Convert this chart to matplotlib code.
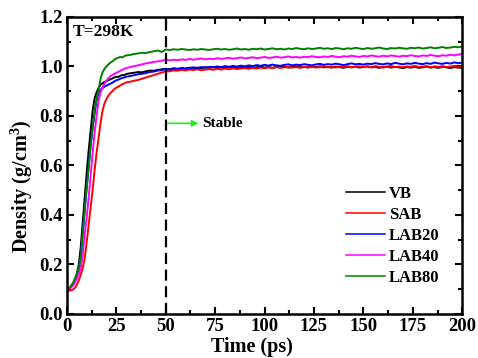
import numpy as np
import matplotlib
matplotlib.use("Agg")
from matplotlib import pyplot as plt
from matplotlib.ticker import MultipleLocator, FormatStrFormatter

plt.rcParams['font.family'] = 'Liberation Serif'
plt.rcParams['font.weight'] = 'bold'
plt.rcParams['mathtext.fontset'] = 'custom'
plt.rcParams['mathtext.bf'] = 'Liberation Serif:bold'
plt.rcParams['mathtext.rm'] = 'Liberation Serif:bold'
plt.rcParams['mathtext.default'] = 'bf'

# time grid: 1 ps steps during the rise, 2 ps steps afterwards
t_rise = list(range(0, 31))
t_late = list(range(32, 201, 2))
time = np.array(t_rise + t_late)

labels = ['VB', 'SAB', 'LAB20', 'LAB40', 'LAB80']
colors = ['black', 'red', 'blue', 'magenta', 'green']

vb = [0.100, 0.103, 0.110, 0.120, 0.135, 0.160, 0.200, 0.270, 0.370, 0.470,
      0.570, 0.660, 0.740, 0.820, 0.870, 0.895, 0.912, 0.925, 0.932, 0.937,
      0.940, 0.944, 0.948, 0.951, 0.955, 0.958, 0.957, 0.962, 0.965, 0.964,
      0.969,
      0.972, 0.974, 0.977, 0.976, 0.980, 0.983, 0.982, 0.986, 0.988, 0.990,
      0.988, 0.992, 0.990, 0.993, 0.991, 0.994, 0.992, 0.995, 0.993, 0.996,
      0.994, 0.997, 0.993, 0.996, 0.994, 0.998, 0.995, 0.993, 0.997, 0.995,
      0.998, 0.994, 0.996, 0.999, 0.995, 0.997, 0.994, 0.998, 0.996, 0.999,
      0.995, 0.997, 1.000, 0.996, 0.998, 0.995, 0.999, 0.997, 1.000, 0.996,
      0.998, 0.995, 0.999, 0.997, 0.994, 0.998, 0.996, 0.999, 0.995, 0.997,
      1.000, 0.996, 0.998, 0.994, 0.997, 0.999, 0.995, 0.998, 0.996, 0.993,
      0.997, 0.995, 0.998, 0.994, 0.996, 0.999, 0.995, 0.997, 0.994, 0.998,
      0.996, 0.993, 0.997, 0.995, 0.994]

sab = [0.095, 0.094, 0.095, 0.098, 0.105, 0.118, 0.135, 0.158, 0.185, 0.225,
       0.290, 0.360, 0.430, 0.500, 0.580, 0.650, 0.710, 0.770, 0.820, 0.850,
       0.868, 0.882, 0.892, 0.900, 0.908, 0.914, 0.918, 0.923, 0.928, 0.931,
       0.935,
       0.938, 0.942, 0.945, 0.950, 0.955, 0.960, 0.965, 0.970, 0.975, 0.980,
       0.980, 0.984, 0.982, 0.986, 0.983, 0.987, 0.985, 0.988, 0.984, 0.987,
       0.989, 0.986, 0.990, 0.987, 0.991, 0.988, 0.992, 0.989, 0.991, 0.993,
       0.990, 0.994, 0.991, 0.995, 0.992, 0.996, 0.993, 0.997, 0.994, 0.996,
       0.998, 0.995, 0.997, 0.994, 0.998, 0.996, 0.999, 0.995, 0.997, 1.000,
       0.996, 0.998, 0.995, 0.999, 0.997, 1.001, 0.996, 0.998, 1.000, 0.997,
       0.999, 0.996, 1.001, 0.998, 0.995, 0.999, 1.002, 0.997, 0.999, 0.996,
       1.000, 0.998, 1.002, 0.997, 0.999, 1.001, 0.996, 1.000, 0.998, 1.001,
       0.997, 0.999, 1.002, 0.998, 1.000]

lab20 = [0.100, 0.103, 0.110, 0.120, 0.135, 0.158, 0.185, 0.240, 0.330, 0.420,
         0.510, 0.600, 0.680, 0.750, 0.810, 0.860, 0.890, 0.905, 0.912, 0.918,
         0.922, 0.926, 0.930, 0.934, 0.939, 0.944, 0.946, 0.950, 0.953, 0.955,
         0.958,
         0.961, 0.964, 0.968, 0.970, 0.973, 0.977, 0.979, 0.983, 0.985, 0.989,
         0.987, 0.991, 0.989, 0.993, 0.990, 0.994, 0.996, 0.993, 0.997, 0.995,
         0.998, 0.996, 1.000, 0.997, 1.001, 0.998, 1.002, 0.999, 1.003, 1.000,
         1.004, 1.001, 1.005, 1.002, 1.006, 1.003, 1.007, 1.004, 1.002, 1.006,
         1.008, 1.004, 1.007, 1.005, 1.009, 1.006, 1.004, 1.008, 1.010, 1.006,
         1.009, 1.007, 1.011, 1.008, 1.005, 1.009, 1.012, 1.008, 1.010, 1.007,
         1.011, 1.009, 1.013, 1.010, 1.008, 1.012, 1.009, 1.014, 1.011, 1.008,
         1.012, 1.010, 1.014, 1.011, 1.009, 1.013, 1.010, 1.015, 1.012, 1.010,
         1.014, 1.011, 1.016, 1.013, 1.015]

lab40 = [0.100, 0.102, 0.106, 0.114, 0.126, 0.142, 0.160, 0.185, 0.240, 0.320,
         0.390, 0.470, 0.560, 0.650, 0.730, 0.800, 0.860, 0.895, 0.915, 0.930,
         0.942, 0.952, 0.960, 0.965, 0.970, 0.974, 0.978, 0.982, 0.986, 0.990,
         0.993,
         0.997, 1.001, 1.004, 1.008, 1.012, 1.015, 1.018, 1.020, 1.023, 1.026,
         1.024, 1.027, 1.025, 1.028, 1.026, 1.030, 1.027, 1.029, 1.032, 1.028,
         1.031, 1.029, 1.033, 1.030, 1.032, 1.035, 1.031, 1.033, 1.036, 1.032,
         1.034, 1.037, 1.033, 1.035, 1.038, 1.034, 1.036, 1.039, 1.035, 1.037,
         1.040, 1.036, 1.038, 1.035, 1.039, 1.037, 1.041, 1.038, 1.036, 1.040,
         1.038, 1.042, 1.039, 1.037, 1.041, 1.039, 1.043, 1.040, 1.038, 1.042,
         1.040, 1.044, 1.041, 1.039, 1.043, 1.040, 1.044, 1.042, 1.039, 1.043,
         1.041, 1.045, 1.042, 1.040, 1.044, 1.042, 1.046, 1.043, 1.041, 1.045,
         1.043, 1.047, 1.044, 1.048, 1.050]

lab80 = [0.100, 0.105, 0.113, 0.125, 0.142, 0.162, 0.185, 0.230, 0.320, 0.420,
         0.510, 0.590, 0.680, 0.750, 0.820, 0.870, 0.900, 0.950, 0.975, 0.990,
         1.000, 1.008, 1.015, 1.020, 1.027, 1.032, 1.035, 1.038, 1.036, 1.041,
         1.044,
         1.046, 1.050, 1.052, 1.055, 1.054, 1.058, 1.061, 1.064, 1.058, 1.068,
         1.066, 1.069, 1.067, 1.070, 1.068, 1.066, 1.069, 1.067, 1.070, 1.068,
         1.066, 1.069, 1.071, 1.068, 1.070, 1.067, 1.069, 1.072, 1.068, 1.070,
         1.067, 1.071, 1.069, 1.072, 1.068, 1.070, 1.073, 1.069, 1.071, 1.068,
         1.072, 1.070, 1.074, 1.071, 1.069, 1.073, 1.070, 1.072, 1.075, 1.071,
         1.073, 1.070, 1.074, 1.072, 1.069, 1.073, 1.071, 1.075, 1.072, 1.070,
         1.074, 1.071, 1.073, 1.076, 1.072, 1.070, 1.074, 1.072, 1.075, 1.073,
         1.071, 1.075, 1.073, 1.076, 1.072, 1.074, 1.077, 1.073, 1.075, 1.078,
         1.074, 1.076, 1.079, 1.077, 1.081]

series = [vb, sab, lab20, lab40, lab80]

fig = plt.figure(figsize=(4.78, 3.58), dpi=100)
ax = fig.add_axes([0.140, 0.123, 0.827, 0.830])

for y, lab, c in zip(series, labels, colors):
    ax.plot(time, y, color=c, lw=1.4, label=lab)

ax.axvline(50, color='black', lw=1.6, linestyle=(0, (5, 2.5)))

ax.annotate('', xy=(66.5, 0.77), xytext=(50.8, 0.77),
            arrowprops=dict(arrowstyle='-|>', color='#22ee22', lw=1.2,
                            mutation_scale=9, shrinkA=0, shrinkB=0))
ax.text(68.3, 0.77, 'Stable', fontsize=11, fontweight='bold', va='center', ha='left')
ax.text(3, 1.14, 'T=298K', fontsize=12.5, fontweight='bold', va='center', ha='left')

ax.set_xlim(0, 200)
ax.set_ylim(0, 1.2)
ax.xaxis.set_major_locator(MultipleLocator(25))
ax.xaxis.set_minor_locator(MultipleLocator(12.5))
ax.yaxis.set_major_locator(MultipleLocator(0.2))
ax.yaxis.set_minor_locator(MultipleLocator(0.1))
ax.yaxis.set_major_formatter(FormatStrFormatter('%.1f'))
ax.tick_params(which='both', direction='in', top=True, right=True, width=1.5,
               labelsize=13.5, pad=3)
ax.tick_params(which='major', length=5)
ax.tick_params(which='minor', length=3)
for sp in ax.spines.values():
    sp.set_linewidth(1.8)

ax.set_xlabel('Time (ps)', fontsize=14.5, fontweight='bold')
ax.xaxis.set_label_coords(0.468, -0.077)
ax.set_ylabel(r'Density (g/cm$^3$)', fontsize=14.5, fontweight='bold')
ax.yaxis.set_label_coords(-0.082, 0.43)

leg = ax.legend(loc='upper left', bbox_to_anchor=(0.705, 0.43), frameon=False,
                fontsize=12, handlelength=2.35, handletextpad=0.25,
                labelspacing=0.3, borderpad=0, borderaxespad=0)
for h in leg.get_lines():
    h.set_linewidth(1.1)

fig.savefig('out.png', dpi=100)
